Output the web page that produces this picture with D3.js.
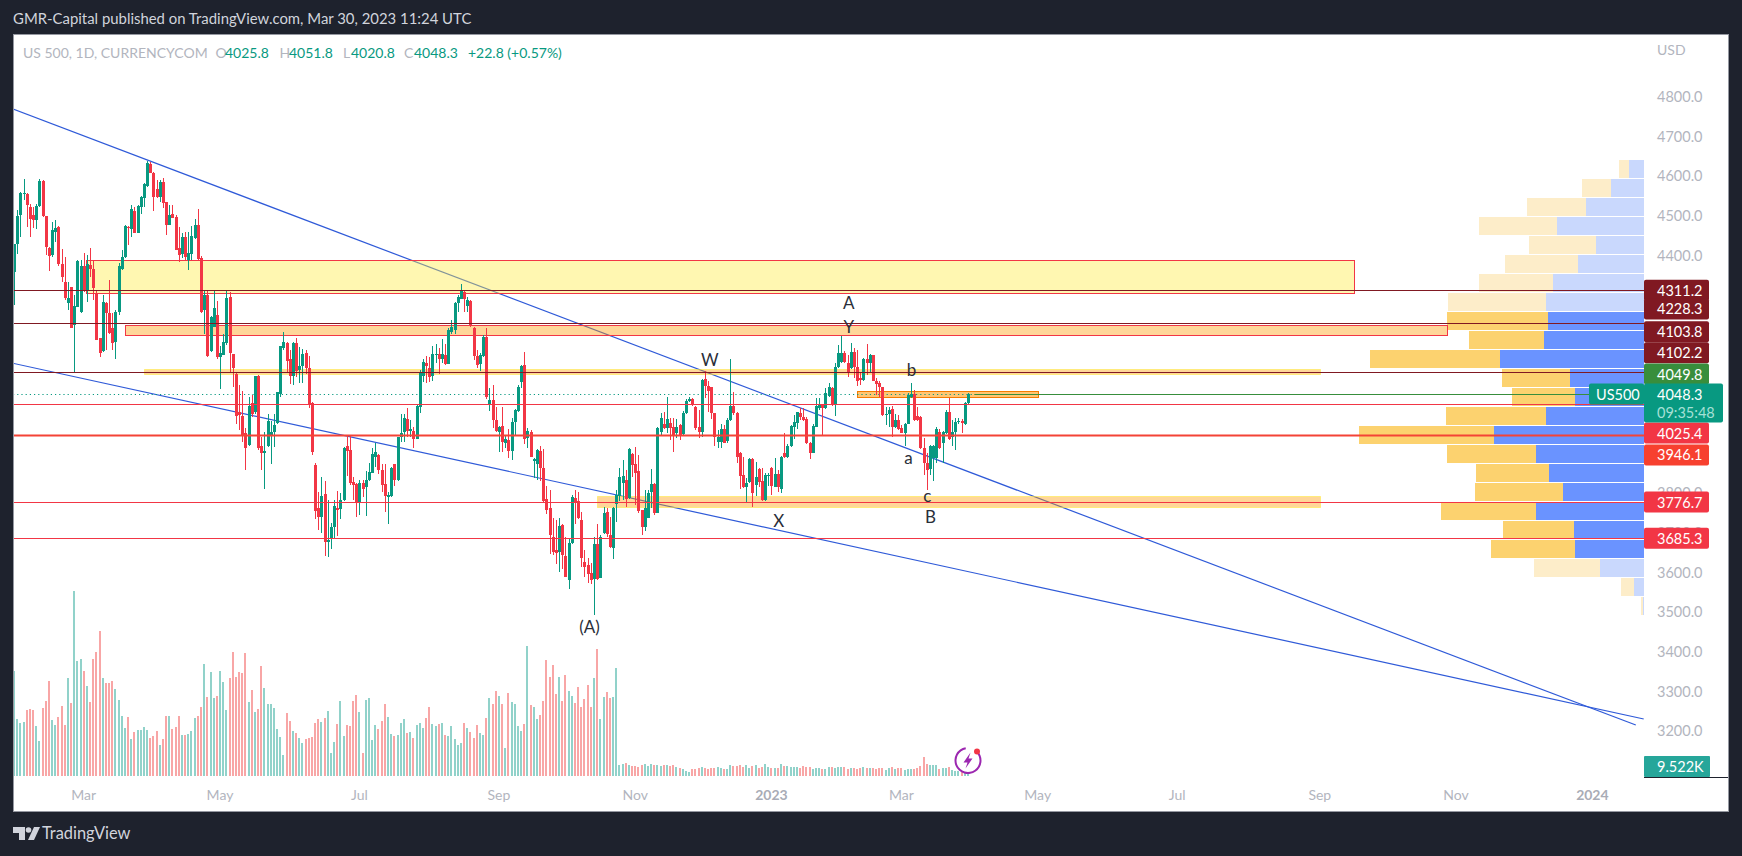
<!DOCTYPE html>
<html><head><meta charset="utf-8">
<script src="https://cdn.jsdelivr.net/npm/d3@7/dist/d3.min.js"></script>
<style>html,body{margin:0;padding:0;background:#1e222d;overflow:hidden}svg{display:block}text{font-family:Lato,sans-serif}</style>
</head><body><svg id="c" width="1742" height="856"></svg>
<script>
const opens=[4356,4428,4501,4554,4554,4521,4501,4488,4525,4588,
4498,4419,4399,4458,4470,4377,4332,4278,4320,4223,
4270,4257,4372,4312,4375,4366,4303,4190,4158,4280,
4255,4215,4181,4257,4366,4394,4472,4465,4512,4456,
4522,4543,4575,4630,4608,4566,4547,4584,4534,4477,
4503,4495,4417,4403,4445,4387,4403,4442,4476,4392,
4261,4299,4158,4219,4249,4142,4148,4177,4293,4150,
4101,4005,3995,3950,3920,4026,4004,4095,3918,3900,
3918,3943,3953,3977,4049,4165,4178,4137,4095,4179,
4111,4120,4152,4116,4027,3870,3763,3740,3797,3677,
3686,3713,3763,3759,3782,3918,3908,3827,3822,3777,
3824,3814,3832,3851,3891,3895,3857,3822,3790,3792,
3874,3832,3941,3953,3987,3955,3955,3936,4017,4096,
4127,4116,4095,4147,4150,4138,4148,4125,4206,4211,
4278,4290,4307,4271,4284,4215,4145,4125,4145,4194,
4022,4034,3984,3954,3969,3925,3933,3906,3979,4007,
4080,4122,3938,3953,3880,3874,3906,3863,3784,3762,
3688,3656,3652,3719,3642,3580,3674,3787,3779,3731,
3625,3617,3597,3583,3672,3585,3698,3752,3694,3661,
3773,3792,3826,3832,3786,3898,3873,3854,3757,3715,
3737,3803,3822,3750,3954,3974,3964,3976,3965,3950,
3971,3948,4001,4032,4036,4016,3965,3954,4087,4070,
4068,4001,3929,3929,3961,3930,3984,4019,4001,3901,
3845,3816,3827,3886,3821,3859,3830,3782,3843,3864,
3816,3848,3810,3900,3890,3917,3965,3977,4002,3991,
3986,3925,3901,3967,4013,4022,4013,4045,4064,4023,
4117,4131,4152,4127,4114,4155,4118,4089,4085,4137,
4127,4148,4083,4078,4068,3997,3999,4011,3967,3984,
3963,3952,3975,4043,4050,3994,3992,3912,3875,3859,
3887,3888,3954,3925,3950,4005,3942,3954,3979,3982,
3974,4025.8];
const closes=[4428,4498,4556,4557,4526,4490,4488,4525,4588,4498,
4421,4398,4463,4467,4377,4345,4291,4291,4217,4271,
4385,4372,4310,4377,4364,4318,4186,4154,4281,4255,
4204,4179,4257,4372,4394,4473,4467,4515,4456,4524,
4546,4579,4631,4608,4547,4546,4584,4532,4477,4500,
4493,4414,4400,4445,4396,4404,4448,4475,4389,4257,
4299,4145,4243,4266,4142,4152,4180,4291,4153,4116,
3994,3996,3946,3914,4019,4000,4095,3914,3901,3905,
3982,3953,3971,4054,4170,4180,4133,4095,4179,4107,
4120,4150,4116,4023,3903,3755,3740,3792,3677,3682,
3713,3767,3756,3782,3913,3906,3825,3819,3775,3824,
3810,3832,3852,3898,3903,3857,3820,3792,3795,3864,
3832,3941,3950,3988,3956,3960,3936,4019,4105,4130,
4120,4093,4150,4150,4138,4150,4125,4211,4218,4280,
4295,4311,4290,4286,4223,4145,4122,4147,4194,4041,
4034,3984,3956,3967,3928,3936,3906,3979,4009,4066,
4120,3937,3955,3891,3885,3908,3863,3780,3757,3694,
3651,3649,3716,3644,3588,3674,3790,3778,3736,3636,
3614,3595,3580,3671,3582,3689,3748,3695,3664,3762,
3794,3839,3842,3784,3911,3871,3851,3754,3715,3761,
3800,3822,3748,3964,3989,3963,3986,3963,3946,3965,
3946,4001,4033,4036,4021,3963,3954,4085,4070,4058,
4001,3940,3942,3961,3927,3984,4018,4001,3890,3843,
3814,3824,3885,3799,3839,3827,3782,3845,3846,3817,
3848,3814,3890,3890,3918,3969,3980,4003,3992,3984,
3925,3901,3969,4018,4022,4013,4051,4066,4022,4117,
4152,4152,4131,4106,4155,4118,4083,4085,4137,4127,
4148,4083,4074,4068,3997,3999,4009,3967,3984,3960,
3952,3975,4047,4050,3984,3984,3912,3875,3858,3919,
3917,3961,3912,3954,4003,3935,3954,3980,3982,3976,
4026,4048.3];
const highs=[4429,4514,4560,4591,4556,4530,4522,4530,4591,4589,
4498,4421,4484,4488,4473,4416,4394,4333,4320,4299,
4387,4387,4404,4400,4419,4387,4312,4190,4299,4282,
4337,4253,4261,4379,4414,4476,4473,4526,4522,4526,
4549,4581,4638,4636,4610,4589,4589,4594,4534,4526,
4526,4501,4470,4455,4459,4459,4473,4490,4515,4398,
4312,4312,4245,4312,4284,4170,4201,4310,4306,4150,
4105,4072,4057,3963,4042,4047,4096,4097,3942,3954,
4000,3982,4000,4054,4170,4206,4181,4160,4181,4190,
4169,4164,4160,4145,4030,3876,3803,3841,3830,3782,
3723,3782,3805,3799,3916,3943,3943,3841,3824,3832,
3832,3855,3876,3912,3925,3898,3874,3873,3803,3866,
3874,3941,4000,4000,4013,3985,3967,4021,4110,4139,
4145,4142,4170,4175,4165,4188,4175,4215,4236,4282,
4299,4326,4311,4293,4286,4219,4160,4152,4198,4215,
4064,4072,4016,3969,4016,3946,3960,3988,4011,4072,
4122,4156,3963,3958,3887,3910,3919,3910,3817,3807,
3736,3731,3736,3721,3689,3685,3794,3807,3803,3752,
3656,3635,3622,3688,3721,3694,3765,3761,3740,3765,
3807,3862,3884,3858,3914,3900,3916,3895,3757,3807,
3807,3860,3824,3967,4001,4005,4043,3988,3988,3986,
3973,4007,4037,4043,4039,4019,4009,4087,4108,4081,
4068,4001,3959,3973,3971,3988,4137,4054,4005,3904,
3890,3837,3888,3888,3879,3862,3862,3849,3849,3866,
3887,3858,3893,3950,3923,3970,3997,4005,4013,4013,
3991,3929,3974,4039,4039,4024,4064,4076,4068,4127,
4173,4196,4159,4148,4177,4165,4161,4106,4140,4176,
4150,4148,4089,4081,4068,4016,4016,4019,3999,3997,
3971,3977,4051,4076,4060,4016,3994,3938,3901,3921,
3921,3965,3960,3956,4009,4040,3984,3988,3988,3986,
4030,4051.8];
const lows=[4274,4403,4446,4539,4470,4446,4467,4465,4522,4497,
4400,4361,4394,4434,4372,4333,4287,4261,4215,4106,
4268,4255,4308,4282,4345,4287,4186,4142,4156,4160,
4201,4160,4139,4249,4362,4392,4425,4445,4456,4455,
4503,4520,4572,4606,4511,4543,4535,4518,4451,4476,
4493,4413,4383,4392,4387,4362,4387,4440,4387,4255,
4201,4144,4156,4218,4139,4063,4147,4173,4106,4068,
3975,3958,3929,3857,3919,3992,4000,3908,3857,3809,
3916,3873,3916,3975,4042,4160,4106,4074,4072,4093,
4078,4078,4101,4015,3895,3735,3706,3698,3640,3639,
3659,3684,3691,3733,3780,3842,3820,3782,3740,3744,
3790,3741,3830,3849,3866,3847,3803,3752,3721,3790,
3817,3830,3929,3929,3941,3941,3913,3935,4002,4079,
4076,4080,4083,4127,4101,4127,4122,4124,4202,4202,
4257,4289,4257,4257,4219,4135,4114,4108,4143,4038,
4007,3963,3954,3904,3904,3912,3887,3883,3946,4005,
4064,3923,3912,3890,3837,3832,3830,3778,3747,3646,
3643,3620,3601,3607,3587,3558,3672,3721,3735,3614,
3588,3572,3570,3492,3580,3584,3696,3689,3660,3633,
3727,3780,3782,3765,3784,3841,3769,3750,3694,3704,
3736,3761,3744,3748,3946,3960,3950,3933,3904,3938,
3933,3946,3999,4030,4019,3959,3938,3940,4039,4005,
3986,3918,3912,3912,3925,3927,3982,3997,3875,3809,
3812,3776,3826,3765,3792,3816,3780,3780,3817,3795,
3814,3803,3799,3887,3888,3915,3935,3960,3984,3982,
3923,3886,3900,3965,4009,3946,4012,4043,4018,3994,
4114,4127,4127,4093,4112,4089,4070,4072,4083,4097,
4102,4081,4047,4043,3994,3971,3967,3940,3963,3959,
3950,3918,3974,4039,3982,3982,3910,3846,3807,3845,
3831,3875,3910,3875,3949,3933,3917,3907,3975,3952,
3971,4020.8];
const volumes=[315,171,159,162,198,201,198,150,105,204,
225,285,168,153,177,210,153,294,219,555,
345,351,315,270,222,351,372,435,294,279,
279,285,261,228,180,144,177,111,132,138,
138,147,138,114,120,135,93,111,180,180,
141,147,180,123,123,126,135,174,180,207,
336,237,312,234,240,315,282,198,294,372,
297,312,309,369,222,258,192,201,330,264,
216,216,204,141,117,63,189,165,135,129,
114,99,111,114,117,159,171,162,174,195,
69,102,156,225,120,153,150,225,243,192,
69,228,234,108,153,141,165,216,177,126,
120,123,159,171,129,132,114,153,159,144,
174,207,156,150,156,159,123,120,150,111,
93,99,159,144,132,114,153,129,123,174,
234,216,255,240,216,84,249,222,216,150,
135,156,390,213,207,171,183,225,348,297,
333,246,297,225,303,255,240,219,267,207,
231,273,207,294,381,171,237,252,234,237,
324,33,36,39,33,30,30,27,33,36,
30,36,33,33,30,33,33,30,33,27,
24,21,15,12,21,21,24,27,24,21,
24,24,27,24,21,21,33,30,30,33,
27,33,24,30,33,24,27,36,27,24,
24,24,36,30,30,27,27,27,24,30,
27,27,21,24,24,21,21,27,27,24,
27,27,27,21,24,24,21,24,27,24,
24,24,21,24,24,18,24,27,21,24,
24,18,21,21,21,24,30,57,36,33,
33,33,21,24,24,27,18,15,15,12,
9,9.522];
const yTicks=[4800,4700,4600,4500,4400,3800,3700,3600,3500,3400,3300,3200];
const xTickIdx=[22,65,109,153,196,239,280,323,367,412,455,498];
const xTickLabels=["Mar","May","Jul","Sep","Nov","2023","Mar","May","Jul","Sep","Nov","2024"];
const vpUp=[15,33,58,87,48,66,91,98,96,100,144,74,69,98,150,108,95,81,108,70,69,44,10,1];
const vpDown=[10,29,59,78,67,73,74,98,101,75,130,68,63,100,135,89,73,88,95,71,84,66,13,2];
const vpInValueArea=[0,0,0,0,0,0,0,0,1,1,1,1,1,1,1,1,1,1,1,1,1,0,0,0];
const vpTopPrice=4639.7, vpStepPrice=47.93;
const levelPrices=[4311.2,4228.3,4103.8,4025.4,3946.1,3776.7,3685.3];
const levelKinds=["d","d","d","r","R","r","r"];
const trendA=[[-0.3,4768.4],[511.7,3214.4]];
const trendB=[[-0.3,4126.9],[514.2,3229.6]];
const zoneStartIdx=[22.7,35,41,183.9,266];
const zoneEndIdx=[422.7,452,412,412,323];
const zoneTop=[4387.5,4223.5,4111.8,3792,4056.3];
const zoneBottom=[4304,4198.3,4099.2,3765,4040];
const waveLabels=["A","Y","W","b","a","c","B","X","(A)"];
const waveIdx=[263.4,263.4,219.5,283.2,282.2,288.2,289.2,241.3,181.6];
const wavePrice=[4281.5,4221,4137.7,4110,3888.8,3792.9,3740,3729.8,3464];
const tagLabels=["4311.2","4228.3","4103.8","4102.2","4049.8","4025.4","3946.1","3776.7","3685.3"];
const tagShown=[4311.2,4263.9,4206.6,4153.6,4099.9,3951,3895.6,3776.7,3685.3];

const svg=d3.select("#c");
const P={l:13,t:34,r:1728,b:811,axis:1644};
const x=d3.scaleLinear().domain([0,301]).range([14,968]);
const y=d3.scaleLinear().domain([3200,4800]).range([730.7,96.5]);
const yVol=d3.scaleLinear().domain([0,555]).range([776,591]);
const vpW=d3.scaleLinear().domain([0,150]).range([0,150]);
const UP="#089981",DN="#f23645";

svg.append("rect").attr("width",1742).attr("height",856).attr("fill","#1e222d");
svg.append("rect").attr("x",P.l+.5).attr("y",P.t+.5).attr("width",P.r-P.l).attr("height",P.b-P.t).attr("fill","#fff").attr("stroke","#9598a1");
svg.append("text").attr("x",13).attr("y",24).attr("fill","#d1d4dc").attr("font-size",14.9).text("GMR-Capital published on TradingView.com, Mar 30, 2023 11:24 UTC");

const defs=svg.append("defs");
defs.append("clipPath").attr("id","plot").append("rect").attr("x",P.l+1).attr("y",P.t+1).attr("width",P.axis-P.l-1).attr("height",P.b-P.t-2);
const g=svg.append("g").attr("clip-path","url(#plot)");

// volume profile
const vp=g.append("g").attr("shape-rendering","crispEdges");
vpUp.forEach((u,k)=>{
  const t=y(vpTopPrice-k*vpStepPrice), b=y(vpTopPrice-(k+1)*vpStepPrice)-1, inVA=vpInValueArea[k];
  vp.append("rect").attr("x",P.axis-vpW(u)).attr("y",t).attr("width",vpW(u)).attr("height",b-t).attr("fill",inVA?"#6a93ff":"#c9d8fd");
  vp.append("rect").attr("x",P.axis-vpW(u)-vpW(vpDown[k])).attr("y",t).attr("width",vpW(vpDown[k])).attr("height",b-t).attr("fill",inVA?"#fcd26f":"#fdedc9");
});
// trend lines
[trendA,trendB].forEach(t=>g.append("line").attr("x1",x(t[0][0])).attr("y1",y(t[0][1])).attr("x2",x(t[1][0])).attr("y2",y(t[1][1])).attr("stroke","#2f5ad8").attr("stroke-width",1.2));
// zones
const zoneFill=["rgba(255,235,59,.4)","rgba(255,152,0,.4)","rgba(255,152,0,.4)","rgba(255,152,0,.4)","rgba(255,152,0,.55)"];
const zoneStroke=["#f23645","#f23645","rgba(255,235,59,.55)","rgba(255,235,59,.55)","#f57c00"];
zoneStartIdx.forEach((s,k)=>g.append("rect").attr("x",Math.round(x(s))+.5).attr("y",Math.round(y(zoneTop[k]))+.5)
  .attr("width",Math.round(x(zoneEndIdx[k])-x(s))).attr("height",Math.round(y(zoneBottom[k])-y(zoneTop[k])))
  .attr("fill",zoneFill[k]).attr("stroke",zoneStroke[k]));
// current price dotted
g.append("line").attr("x1",P.l).attr("x2",P.axis).attr("y1",Math.round(y(4048.3))+.5).attr("y2",Math.round(y(4048.3))+.5).attr("stroke",UP).attr("stroke-dasharray","1.2 3");
g.append("line").attr("x1",x(303)).attr("x2",P.axis).attr("y1",Math.round(y(4049.8))+.5).attr("y2",Math.round(y(4049.8))+.5).attr("stroke","#388e3c");
// volume
g.append("g").attr("shape-rendering","crispEdges").selectAll("rect").data(volumes).join("rect")
  .attr("x",(d,i)=>Math.round(x(i))-1).attr("width",2).attr("y",d=>yVol(d)).attr("height",d=>yVol(0)-yVol(d))
  .attr("fill",(d,i)=>closes[i]>=opens[i]?"#91d2ca":"#f8a6a6");
// candles
const cg=g.append("g").attr("shape-rendering","crispEdges");
opens.forEach((o,i)=>{
  const c=closes[i],col=c>=o?UP:DN,cx=Math.round(x(i));
  cg.append("rect").attr("x",cx).attr("width",1).attr("y",y(highs[i])).attr("height",y(lows[i])-y(highs[i])).attr("fill",col);
  const t=y(Math.max(o,c)),h=Math.max(1,Math.abs(y(o)-y(c)));
  cg.append("rect").attr("x",cx-1).attr("width",3).attr("y",t).attr("height",h).attr("fill",col);
});
// levels
levelPrices.forEach((p,k)=>{
  const kind=levelKinds[k];
  g.append("line").attr("x1",P.l).attr("x2",P.axis).attr("y1",Math.round(y(p))+.5).attr("y2",Math.round(y(p))+.5)
   .attr("stroke",kind==="d"?"#801922":kind==="R"?"#f44336":"#f23645").attr("stroke-width",kind==="R"?2:1);
});
// wave labels
waveLabels.forEach((t,k)=>g.append("text").attr("x",x(waveIdx[k])).attr("y",y(wavePrice[k])).attr("text-anchor","middle").attr("dominant-baseline","central").attr("fill","#2a2e39").attr("font-size",17).text(t));

// legend
const lg=svg.append("g").attr("font-size",14);
[["US 500, 1D, CURRENCYCOM",23,"#b2b5be"],["O",215.5,"#b2b5be"],["4025.8",225,UP],["H",279.6,"#b2b5be"],["4051.8",289,UP],["L",343,"#b2b5be"],["4020.8",351,UP],["C",404,"#b2b5be"],["4048.3",414,UP],["+22.8 (+0.57%)",468,UP]]
 .forEach(d=>lg.append("text").attr("x",d[1]).attr("y",58).attr("fill",d[2]).text(d[0]));

// time axis
const tg=svg.append("g").attr("font-size",14).attr("text-anchor","middle");
xTickIdx.forEach((v,k)=>{const yr=/^\d/.test(xTickLabels[k]);
  tg.append("text").attr("x",x(v)).attr("y",800).attr("fill",yr?"#a9acb6":"#b2b5be").attr("font-weight",yr?"bold":"normal").text(xTickLabels[k]);});

// price axis
svg.append("rect").attr("x",P.axis).attr("y",P.t+1).attr("width",P.r-P.axis).attr("height",P.b-P.t-2).attr("fill","#fff");
const ag=svg.append("g").attr("font-size",14.5);
ag.append("text").attr("x",1657).attr("y",55).attr("fill","#b2b5be").attr("font-size",14).text("USD");
yTicks.forEach(t=>ag.append("text").attr("x",1657).attr("y",y(t)).attr("dominant-baseline","central").attr("fill","#b2b5be").text(t.toFixed(1)));
// tags
const tagColor=["#801922","#801922","#801922","#801922","#388e3c","#f23645","#f7402f","#f23645","#f23645"];
tagLabels.forEach((t,k)=>{
  const cy=y(tagShown[k]);
  ag.append("rect").attr("x",P.axis).attr("y",cy-10.5).attr("width",65).attr("height",21).attr("rx",2).attr("fill",tagColor[k]);
  ag.append("text").attr("x",1657).attr("y",cy).attr("dominant-baseline","central").attr("fill","#fff").text(t);
});
// last price
const ly=y(4048.3);
ag.append("rect").attr("x",1589).attr("y",ly-11).attr("width",55).attr("height",21).attr("rx",2).attr("fill",UP);
ag.append("rect").attr("x",1644).attr("y",ly-11).attr("width",79).attr("height",39).attr("rx",2).attr("fill",UP);
ag.append("text").attr("x",1596).attr("y",ly).attr("dominant-baseline","central").attr("fill","#fff").text("US500");
ag.append("text").attr("x",1657).attr("y",ly).attr("dominant-baseline","central").attr("fill","#fff").text("4048.3");
ag.append("text").attr("x",1657).attr("y",ly+18).attr("dominant-baseline","central").attr("fill","#a5e0d6").text("09:35:48");
// volume tag
ag.append("rect").attr("x",P.axis).attr("y",756).attr("width",66).attr("height",21).attr("rx",1).attr("fill","#26a69a");
ag.append("text").attr("x",1657).attr("y",766.5).attr("dominant-baseline","central").attr("fill","#fff").text("9.522K");
ag.append("line").attr("x1",P.axis).attr("x2",P.r).attr("y1",777.5).attr("y2",777.5).attr("stroke","#1e222d");

// lightning icon
const ic=svg.append("g").attr("transform","translate(968,760.5)");
ic.append("path").attr("d",d3.arc()({innerRadius:11.5,outerRadius:13.5,startAngle:0.75,endAngle:6.1})).attr("fill","#9c27b0");
ic.append("path").attr("d","M2.5,-8 L-4.5,2 L-0.5,2 L-2.5,8 L4.5,-2 L0.5,-2 Z").attr("fill","#9c27b0");
ic.append("circle").attr("cx",9).attr("cy",-9).attr("r",3).attr("fill","#f23645");

// brand
const br=svg.append("g").attr("transform","translate(13,827)").attr("fill","#d1d4dc");
br.append("path").attr("d","M0,0 H12 V13 H6 V6 H0 Z");
br.append("circle").attr("cx",15.5).attr("cy",3).attr("r",2.8);
br.append("path").attr("d","M21,0 H27 L21,13 H15 Z");
svg.append("text").attr("x",42).attr("y",839).attr("fill","#d1d4dc").attr("font-size",16.4).text("TradingView");
</script></body></html>
